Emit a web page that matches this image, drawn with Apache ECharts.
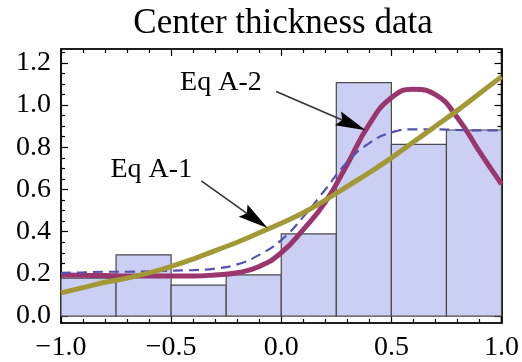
<!DOCTYPE html>
<html>
<head>
<meta charset="utf-8">
<script src="https://cdn.jsdelivr.net/npm/echarts@6/dist/echarts.min.js"></script>
<style>
  html, body { margin: 0; padding: 0; background: #fff; }
  #container { width: 522px; height: 362px; }
</style>
</head>
<body>
<div id="container"></div>
<script>
// histogram bins
const binStart = [-1, -0.75, -0.5, -0.25, 0, 0.25, 0.5, 0.75];
const binEnd = [-0.75, -0.5, -0.25, 0, 0.25, 0.5, 0.75, 1];
const binHeight = [0.18, 0.29, 0.147, 0.195, 0.39, 1.107, 0.814, 0.882];

// curves, every 0.1
const xs = [-1, -0.9, -0.8, -0.7, -0.6, -0.5, -0.4, -0.3, -0.2, -0.1, 0, 0.1, 0.2, 0.3, 0.4, 0.5, 0.6, 0.7, 0.8, 0.9, 1];
const eqA1 = [0.11, 0.135, 0.16, 0.18, 0.205, 0.235, 0.27, 0.31, 0.35, 0.395, 0.44, 0.49, 0.55, 0.615, 0.68, 0.75, 0.825, 0.9, 0.975, 1.055, 1.135];
const eqA2 = [0.195, 0.193, 0.192, 0.19, 0.19, 0.19, 0.19, 0.195, 0.205, 0.235, 0.3, 0.41, 0.54, 0.72, 0.91, 1.035, 1.075, 1.05, 0.94, 0.78, 0.625];
const dashedFit = [0.205, 0.207, 0.21, 0.21, 0.212, 0.215, 0.218, 0.225, 0.245, 0.29, 0.36, 0.47, 0.6, 0.73, 0.82, 0.87, 0.885, 0.885, 0.882, 0.88, 0.88];

// tick values
const yTicks = [0, 0.2, 0.4, 0.6, 0.8, 1.0, 1.2];
const yMinorTicks = [0.05, 0.1, 0.15, 0.25, 0.3, 0.35, 0.45, 0.5, 0.55, 0.65, 0.7, 0.75, 0.85, 0.9, 0.95, 1.05, 1.1, 1.15, 1.25];

// annotations (data coordinates)
const noteText = ['Eq A-1', 'Eq A-2'];
const noteAt = [[-0.59, 0.696], [-0.274, 1.108]];
const arrowFrom = [[-0.363, 0.641], [-0.023, 1.064]];
const arrowTo = [[-0.062, 0.417], [0.383, 0.881]];

const serif = '"Liberation Serif", "Times New Roman", serif';
const fmt = v => v.toFixed(1).replace('-', '\u2212');
const tickColor = '#000';

let chart = echarts.init(document.querySelector('#container'));

const xBase = {
  type: 'value', min: -1, max: 1, interval: 0.5,
  splitLine: { show: false },
  axisLine: { show: true, onZero: false, lineStyle: { color: '#111', width: 1.5 } },
  axisTick: { show: true, inside: true, length: 7, lineStyle: { color: tickColor, width: 1.2 } },
  minorTick: { show: true, splitNumber: 5, length: 4, lineStyle: { color: tickColor, width: 1.2 } },
  minorSplitLine: { show: false }
};
const yBase = {
  type: 'value', min: -0.033, max: 1.266,
  splitLine: { show: false },
  axisLine: { show: true, onZero: false, lineStyle: { color: '#111', width: 1.5 } }
};

chart.setOption({
  animation: false,
  title: {
    text: 'Center thickness data',
    left: 278, top: 1, textAlign: 'center',
    textStyle: { fontFamily: serif, fontSize: 35, fontWeight: 'normal', color: '#000' }
  },
  grid: {
    left: 61, right: 19, top: 49, bottom: 37,
    show: true, borderColor: '#111', borderWidth: 1.5, backgroundColor: 'transparent'
  },
  xAxis: [
    Object.assign({}, xBase, {
      position: 'bottom',
      axisLabel: { show: true, margin: 11, fontFamily: serif, fontSize: 28, color: '#000', formatter: fmt }
    }),
    Object.assign({}, xBase, { position: 'top', axisLabel: { show: false } })
  ],
  yAxis: [
    Object.assign({}, yBase, {
      position: 'left',
      axisLabel: { show: true, margin: 10, fontFamily: serif, fontSize: 28, color: '#000', formatter: fmt, customValues: yTicks },
      axisTick: { show: true, inside: true, length: 7, customValues: yTicks, lineStyle: { color: tickColor, width: 1.2 } }
    }),
    Object.assign({}, yBase, {
      position: 'left', axisLabel: { show: false },
      axisTick: { show: true, inside: true, length: 4, customValues: yMinorTicks, lineStyle: { color: tickColor, width: 1.2 } }
    }),
    Object.assign({}, yBase, {
      position: 'right', axisLabel: { show: false },
      axisTick: { show: true, inside: true, length: 7, customValues: yTicks, lineStyle: { color: tickColor, width: 1.2 } }
    }),
    Object.assign({}, yBase, {
      position: 'right', axisLabel: { show: false },
      axisTick: { show: true, inside: true, length: 4, customValues: yMinorTicks, lineStyle: { color: tickColor, width: 1.2 } }
    })
  ],
  series: [
    {
      type: 'custom',
      xAxisIndex: 0, yAxisIndex: 0,
      data: binStart.map((s, i) => [s, binEnd[i], binHeight[i]]),
      encode: { x: [0, 1], y: 2 },
      renderItem: (params, api) => {
        const p0 = api.coord([api.value(0), api.value(2)]);
        const p1 = api.coord([api.value(1), 0]);
        return {
          type: 'rect',
          shape: { x: p0[0], y: p0[1], width: p1[0] - p0[0], height: p1[1] - p0[1] },
          style: { fill: '#cbcff3', stroke: '#4a4a4a', lineWidth: 1.2 }
        };
      }
    },
    {
      name: 'Eq A-2', type: 'line', smooth: true, showSymbol: false,
      data: xs.map((x, i) => [x, eqA2[i]]),
      lineStyle: { color: '#9a356d', width: 5 }
    },
    {
      name: 'fit', type: 'line', smooth: true, showSymbol: false,
      data: xs.map((x, i) => [x, dashedFit[i]]),
      lineStyle: { color: '#5252b0', width: 2.2, type: [10, 6] }
    },
    {
      name: 'Eq A-1', type: 'line', smooth: true, showSymbol: false,
      data: xs.map((x, i) => [x, eqA1[i]]),
      lineStyle: { color: '#a39836', width: 5 }
    }
  ]
});

// labels and arrows, placed through the axes
const toPx = p => chart.convertToPixel({ xAxisIndex: 0, yAxisIndex: 0 }, p);
let graphics = [];
noteText.forEach((t, i) => {
  const c = toPx(noteAt[i]);
  graphics.push({
    type: 'text', x: c[0], y: c[1], z: 100,
    style: { text: t, fontFamily: serif, fontSize: 28, fill: '#000', align: 'center', verticalAlign: 'middle' }
  });
  const s = toPx(arrowFrom[i]);
  const e = toPx(arrowTo[i]);
  const dx = e[0] - s[0], dy = e[1] - s[1];
  const len = Math.sqrt(dx * dx + dy * dy);
  const ux = dx / len, uy = dy / len;
  const nx = -uy, ny = ux;
  const L = 30, W = 7.5;
  const bx = e[0] - ux * L, by = e[1] - uy * L;
  const notch = [e[0] - ux * L * 0.85, e[1] - uy * L * 0.85];
  graphics.push({
    type: 'line', z: 100,
    shape: { x1: s[0], y1: s[1], x2: notch[0], y2: notch[1] },
    style: { stroke: '#333', lineWidth: 1.6 }
  });
  graphics.push({
    type: 'polygon', z: 100,
    shape: { points: [e, [bx + nx * W, by + ny * W], notch, [bx - nx * W, by - ny * W]] },
    style: { fill: '#000' }
  });
});
chart.setOption({ graphic: graphics });
</script>
</body>
</html>
